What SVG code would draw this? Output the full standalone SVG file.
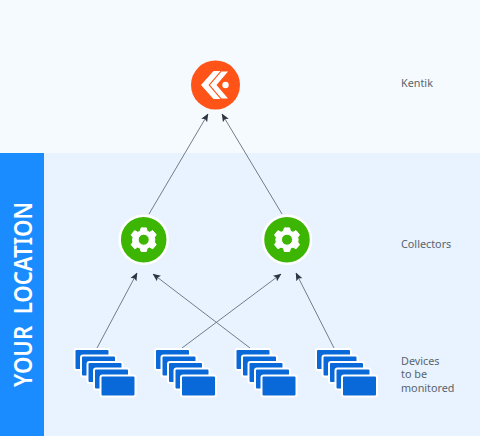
<svg xmlns="http://www.w3.org/2000/svg" width="480" height="436" viewBox="0 0 480 436">
<style>
.lbl{font-family:"Noto Sans","Open Sans",sans-serif;font-size:10.800px;fill:#5a646e}
.ln{fill:none;stroke:#727d89;stroke-width:1;marker-end:url(#arr)}
.d{fill:#0a69d9;stroke:#fff;stroke-width:2}
.gr{fill:#3cb503;stroke:#fff;stroke-width:2.500}
</style>
<defs>
<marker id="arr" viewBox="0 0 8 8" refX="7.500" refY="4" markerWidth="8" markerHeight="8" markerUnits="userSpaceOnUse" orient="auto"><path d="M0 0.600L8 4L0 7.400L1.600 4Z" fill="#2c3540"/></marker>
<g id="stack">
<rect class="d" x="0" y="0" width="35" height="21" rx="2"/>
<rect class="d" x="6.500" y="6.500" width="35" height="21" rx="2"/>
<rect class="d" x="13" y="13" width="35" height="21" rx="2"/>
<rect class="d" x="19.500" y="19.500" width="35" height="21" rx="2"/>
<rect class="d" x="26" y="26.500" width="35" height="21" rx="2"/>
</g>
<g id="gear">
<path fill="#fff" stroke="#fff" stroke-width="1" stroke-linejoin="round" fill-rule="evenodd" d="M-2.600-11.800H2.600L3.500-8.400 6-7.400 9-9.100 12.500-5 10.700-2.300 11.200 0 10.700 2.300 12.500 5 9 9.100 6 7.400 3.500 8.400 2.600 11.800H-2.600L-3.500 8.400-6 7.400-9 9.100-12.500 5-10.700 2.300-11.200 0-10.700-2.300-12.500-5-9-9.100-6-7.400-3.500-8.400ZM0-5.500A5.500 5.500 0 1 0 0 5.500 5.500 5.500 0 1 0 0-5.500Z"/>
</g>
</defs>
<rect width="480" height="436" fill="#f5faff"/>
<rect x="44" y="153" width="436" height="283" fill="#e8f3ff"/>
<g id="location">
<rect x="0" y="153" width="44" height="283" fill="#1a8cff"/>
<text transform="translate(32,387) rotate(-90)" font-family="Noto Sans,Open Sans,sans-serif" font-size="26" font-weight="600" fill="#fff" textLength="185" lengthAdjust="spacingAndGlyphs" xml:space="preserve">YOUR  LOCATION</text>
</g>
<g id="connectors">
<line class="ln" x1="149" y1="214" x2="208" y2="114"/>
<line class="ln" x1="282" y1="214" x2="222" y2="114"/>
<line class="ln" x1="97" y1="348" x2="137" y2="273"/>
<line class="ln" x1="250" y1="348" x2="153" y2="274"/>
<line class="ln" x1="182" y1="348" x2="281" y2="274"/>
<line class="ln" x1="334" y1="348" x2="296" y2="273"/>
</g>
<g id="kentik">
<circle cx="215.500" cy="85" r="24.500" fill="#ff5317"/>
<path fill="#fff" d="M213.500 71H220.500L208.500 85 220.500 99H213.500L201 85Z"/>
<path fill="#fff" d="M221.500 71.500H228L216.500 85 228 98.500H221.500L210 85Z"/>
<circle cx="225.500" cy="85" r="3.200" fill="#fff"/>
</g>
<g id="collector1"><circle class="gr" cx="143.700" cy="239.700" r="24"/><use href="#gear" x="143.700" y="239.700"/></g>
<g id="collector2"><circle class="gr" cx="287" cy="239.700" r="24"/><use href="#gear" x="287" y="239.700"/></g>
<g id="device1"><use href="#stack" x="74.500" y="349"/></g>
<g id="device2"><use href="#stack" x="155" y="349"/></g>
<g id="device3"><use href="#stack" x="235.500" y="349"/></g>
<g id="device4"><use href="#stack" x="316" y="349"/></g>
<text class="lbl" x="401" y="87">Kentik</text>
<text class="lbl" x="401" y="248">Collectors</text>
<text class="lbl" x="401" y="364.500">Devices</text>
<text class="lbl" x="401" y="378">to be</text>
<text class="lbl" x="401" y="391.500">monitored</text>
</svg>
